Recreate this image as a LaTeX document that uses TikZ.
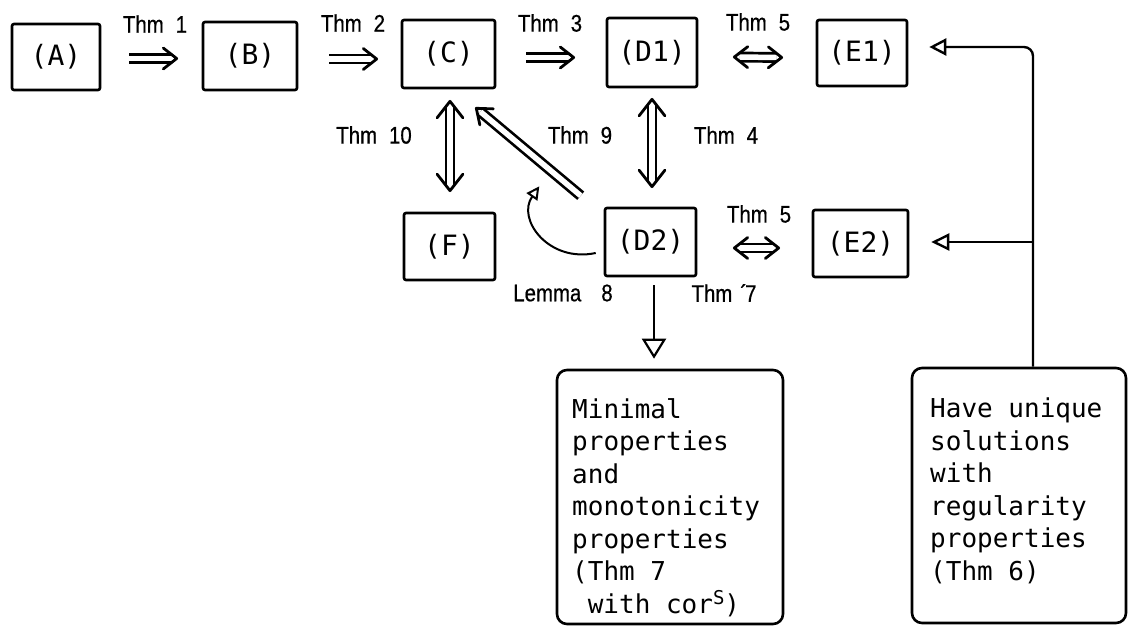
\documentclass[tikz,border=0pt]{standalone}
\usepackage{fontspec}
\setmainfont{Liberation Sans}
\newfontfamily\monof{DejaVu Sans Mono}
\newfontfamily\labf[FakeStretch=0.85,FakeBold=0.6]{Liberation Sans}
\usetikzlibrary{arrows.meta,calc}
\newcommand\thmlab[1]{Thm\hspace{12pt}#1}
% chevron head: #1 arm length, #2 tip, #3 point it comes from
\newcommand\chev[3]{%
  \draw[headline] ($(#2)!#1!38:(#3)$) -- (#2) -- ($(#2)!#1!-38:(#3)$);}
% single-headed double arrow from #2 to #3 (#1 = arm length)
\newcommand\impl[3][17pt]{%
  \draw[dshaft, shorten >=5.5pt] (#2) -- (#3);
  \chev{#1}{#3}{#2}}
% double-headed double arrow between #2 and #3
\newcommand\equi[3][17pt]{%
  \draw[dshaft, shorten >=5.5pt, shorten <=5.5pt] (#2) -- (#3);
  \chev{#1}{#3}{#2}\chev{#1}{#2}{#3}}
\begin{document}
\begin{tikzpicture}[x=1pt,y=-1pt,
  box/.style={draw, line width=2.6pt, rounded corners=2pt, font=\monof\fontsize{28pt}{28pt}\selectfont, inner sep=0pt},
  bigbox/.style={draw, line width=2.6pt, rounded corners=10pt, inner sep=0pt},
  btext/.style={font=\monof\fontsize{26pt}{32.5pt}\selectfont, align=left, inner sep=0pt, anchor=north west},
  lab/.style={font=\labf\fontsize{24pt}{24pt}\selectfont, inner sep=0pt},
  dshaft/.style={double, double distance=5.5pt, line width=2.7pt},
  headline/.style={line width=2.8pt, line join=round, line cap=round},
  tri/.style={line width=2.4pt, -{Triangle[open, length=17pt, width=17pt]}},
  trismall/.style={line width=2pt, -{Triangle[open, length=13pt, width=13pt]}},
]
\useasboundingbox (0,0) rectangle (1129,626);

% small boxes
\node[box, minimum width=88pt, minimum height=66pt] (A) at (56,57) {(A)};
\node[box, minimum width=94pt, minimum height=68pt] (B) at (250,56) {(B)};
\node[box, minimum width=93pt, minimum height=68pt] (C) at (448.5,54) {(C)};
\node[box, minimum width=90pt, minimum height=69pt] (D1) at (652,52.5) {(D1)};
\node[box, minimum width=90pt, minimum height=66pt] (E1) at (862,53) {(E1)};
\node[box, minimum width=91pt, minimum height=67pt] (F) at (449.5,246.5) {(F)};
\node[box, minimum width=91pt, minimum height=68pt] (D2) at (650.5,242) {(D2)};
\node[box, minimum width=95pt, minimum height=67pt] (E2) at (860.5,243.5) {(E2)};

% big boxes
\node[bigbox, minimum width=226pt, minimum height=254pt] (M) at (670,497) {};
\node[btext] (Mtext) at (572,398) {Minimal\\properties\\and\\monotonicity\\properties\\(Thm 7\\\hspace*{15.6pt}with cor\raisebox{9pt}{\fontsize{19pt}{19pt}\selectfont S})};
\node[bigbox, minimum width=214pt, minimum height=255pt] (H) at (1019,495.5) {};
\node[btext] (Htext) at (930,398) {Have unique\\solutions\\with\\regularity\\properties\\(Thm 6)};

% labels
\node[lab] (l1) at (155,24) {\thmlab{1}};
\node[lab] (l2) at (353,23) {\thmlab{2}};
\node[lab] (l3) at (550,23) {\thmlab{3}};
\node[lab] (l5a) at (758,22) {\thmlab{5}};
\node[lab] (l10) at (374,135) {\thmlab{10}};
\node[lab] (l9) at (580,135) {\thmlab{9}};
\node[lab] (l4) at (726,135) {\thmlab{4}};
\node[lab] (l5b) at (759,214) {\thmlab{5}};
\node[lab] (l8) at (563,293) {Lemma\hspace{20pt}8};
\node[lab] (l7) at (724,293) {Thm\hspace{8pt}´\kern-2pt7};

% arrow end points, attached to the boxes
\coordinate (ab1) at ($(A.east)+(28,1.5)$);  \coordinate (ab2) at ($(B.west)+(-25,2.5)$);
\coordinate (bc1) at ($(B.east)+(31,3)$);    \coordinate (bc2) at ($(C.west)+(-24,5)$);
\coordinate (cd1) at ($(C.east)+(30,3.5)$);  \coordinate (cd2) at ($(D1.west)+(-32,5)$);
\coordinate (de1) at ($(D1.east)+(36,4.5)$); \coordinate (de2) at ($(E1.west)+(-34,4.5)$);
\coordinate (dee1) at ($(D2.east)+(37,6)$);  \coordinate (dee2) at ($(E2.west)+(-33,4.5)$);
\coordinate (cf1) at ($(C.south)+(1.5,12)$); \coordinate (cf2) at ($(F.north)+(0.5,-21)$);
\coordinate (dd1) at ($(D1.south)+(0,11)$);  \coordinate (dd2) at ($(D2.north)+(1.5,-20)$);
\coordinate (dc1) at ($(D2.north west)+(-23,-11)$); \coordinate (dc2) at ($(C.south east)+(-20,19)$);

% horizontal implications / equivalences
\impl{ab1}{ab2}
\impl{bc1}{bc2}
\impl{cd1}{cd2}
\equi{de1}{de2}
\equi{dee1}{dee2}

% vertical equivalences
\equi[21pt]{cf1}{cf2}
\equi[21pt]{dd1}{dd2}

% diagonal D2 => C
\impl{dc1}{dc2}

% Lemma 8 curved arrow
\draw[trismall] ($(D2.west)+(-8,11)$) .. controls ($(D2.west)+(-55,21)$) and ($(C.south east)+(20,130)$) .. ($(C.south east)+(43,97)$);

% D2 -> minimal box
\draw[tri, line width=2.2pt, -{Triangle[open, length=20pt, width=24pt]}] ($(D2.south)+(3.5,8)$) -- ($(D2.south |- M.north)+(3.5,-10)$);

% right connector to E1 and E2
\coordinate (vtop) at ($(H.north)+(14,0)$);
\draw[tri, rounded corners=9pt] (vtop) |- ($(E1.east)+(21,-6)$);
\draw[tri, -{Triangle[open, length=18pt, width=17pt]}] ($(vtop |- E2.east)+(0,-1.5)$) -- ($(E2.east)+(22,-1.5)$);
\end{tikzpicture}
\end{document}
